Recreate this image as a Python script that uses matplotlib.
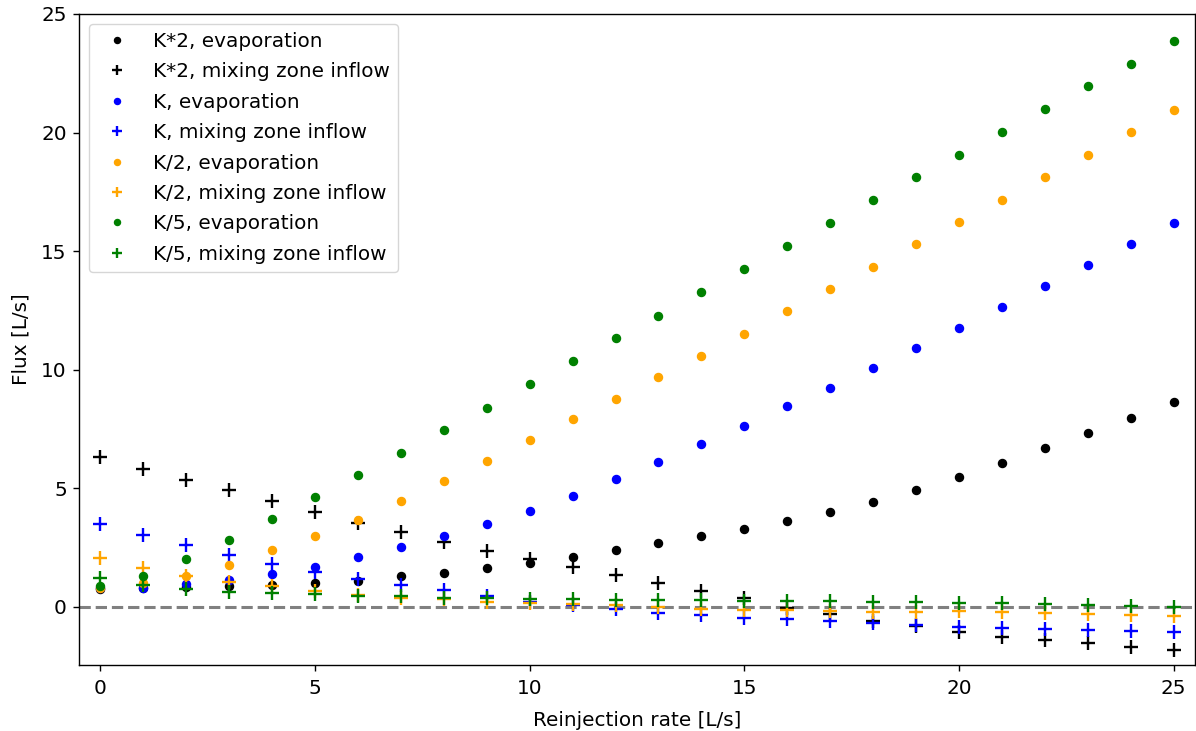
import matplotlib
matplotlib.use("Agg")
import matplotlib.pyplot as plt
import numpy as np

rate = list(range(26))

k2_evap = [0.75, 0.78, 0.85, 0.9, 0.93, 1.0, 1.08, 1.32, 1.42, 1.62, 1.84, 2.1, 2.41, 2.70,
           3.0, 3.3, 3.63, 4.0, 4.42, 4.92, 5.48, 6.05, 6.7, 7.33, 7.98, 8.65]
k2_mix = [6.32, 5.83, 5.36, 4.93, 4.48, 4.01, 3.53, 3.15, 2.74, 2.36, 2.01, 1.69, 1.34, 1.0,
          0.69, 0.37, -0.05, -0.3, -0.58, -0.82, -1.04, -1.25, -1.39, -1.53, -1.67, -1.82]
k_evap = [0.78, 0.8, 0.97, 1.14, 1.37, 1.69, 2.1, 2.53, 3.01, 3.49, 4.05, 4.69, 5.38, 6.12,
          6.88, 7.64, 8.45, 9.25, 10.09, 10.9, 11.74, 12.63, 13.51, 14.4, 15.29, 16.17]
k_mix = [3.48, 3.03, 2.6, 2.17, 1.8, 1.49, 1.18, 0.94, 0.72, 0.44, 0.22, 0.06, -0.07, -0.24,
         -0.34, -0.45, -0.52, -0.59, -0.69, -0.78, -0.86, -0.9, -0.93, -0.97, -1.0, -1.07]
k05_evap = [0.8, 1.0, 1.32, 1.77, 2.38, 3.01, 3.66, 4.48, 5.29, 6.14, 7.04, 7.94, 8.78, 9.71,
            10.6, 11.49, 12.46, 13.39, 14.32, 15.29, 16.22, 17.15, 18.12, 19.05, 20.02, 20.95]
k05_mix = [2.05, 1.63, 1.32, 1.04, 0.89, 0.65, 0.52, 0.39, 0.32, 0.22, 0.16, 0.11, 0.06, 0.01,
           -0.08, -0.13, -0.15, -0.17, -0.2, -0.2, -0.17, -0.23, -0.27, -0.31, -0.35, -0.39]
k02_evap = [0.9, 1.31, 2.04, 2.83, 3.72, 4.62, 5.55, 6.5, 7.47, 8.4, 9.38, 10.35, 11.32, 12.25,
            13.26, 14.23, 15.2, 16.17, 17.15, 18.12, 19.05, 20.02, 20.99, 21.96, 22.89, 23.86]
k02_mix = [1.21, 0.92, 0.75, 0.62, 0.58, 0.54, 0.46, 0.44, 0.39, 0.37, 0.34, 0.32, 0.3, 0.3,
           0.27, 0.25, 0.24, 0.24, 0.21, 0.21, 0.17, 0.15, 0.11, 0.09, 0.04, 0.01]

series = [
    ("K*2", "black", k2_evap, k2_mix),
    ("K", "blue", k_evap, k_mix),
    ("K/2", "orange", k05_evap, k05_mix),
    ("K/5", "green", k02_evap, k02_mix),
]

plt.rcParams.update({
    'font.size': 14.4,
    'axes.linewidth': 1.0,
    'xtick.major.size': 4.6,
    'ytick.major.size': 4.6,
    'xtick.major.width': 1.0,
    'ytick.major.width': 1.0,
    'xtick.major.pad': 5.5,
    'ytick.major.pad': 4.2,
})

fig = plt.figure(figsize=(11.96, 7.31), dpi=100)
ax = fig.add_axes([79/1196, 66/731, (1195-79)/1196, (665-14)/731])

for name, col, ev, mx in series:
    ax.plot(rate, ev, 'o', color=col, ms=5.8, ls='none', label=f"{name}, evaporation")
    ax.plot(rate, mx, '+', color=col, ms=10, mew=1.7, ls='none', label=f"{name}, mixing zone inflow")

ax.axhline(0, color='gray', ls='--', lw=2.2, zorder=0)
ax.set_xlim(-0.5, 25.5)
ax.set_ylim(-2.45, 25)
ax.set_xlabel("Reinjection rate [L/s]", labelpad=9)
ax.set_ylabel("Flux [L/s]", labelpad=8)
ax.legend(loc='upper left', markerscale=0.75, labelspacing=0.57)

fig.savefig("out.png", dpi=100)
